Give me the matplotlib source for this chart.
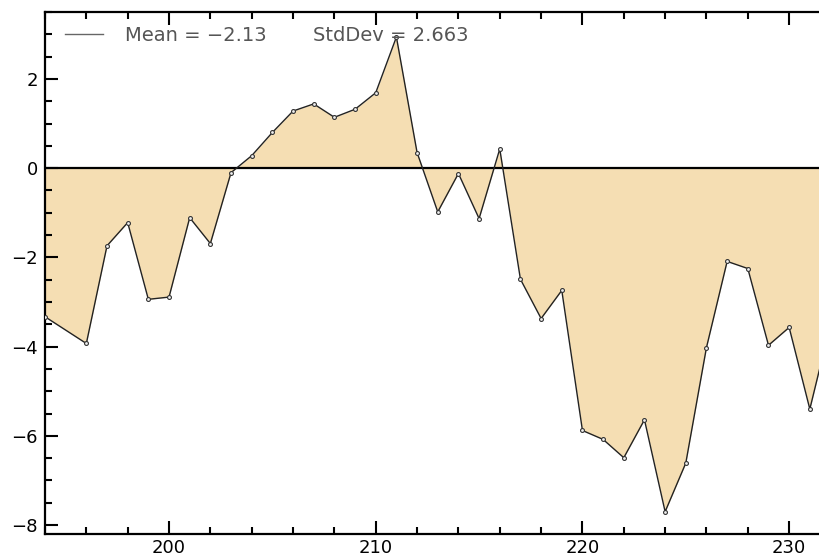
import matplotlib.pyplot as plt
import numpy as np

# residuals per index (no sample at 195)
index = [194, 196, 197, 198, 199, 200, 201, 202, 203, 204, 205, 206, 207,
         208, 209, 210, 211, 212, 213, 214, 215, 216, 217, 218, 219, 220,
         221, 222, 223, 224, 225, 226, 227, 228, 229, 230, 231, 232]
resid = [-3.33, -3.93, -1.74, -1.22, -2.94, -2.89, -1.11, -1.69, -0.10, 0.28,
         0.80, 1.28, 1.44, 1.14, 1.32, 1.69, 2.94, 0.35, -0.98, -0.12, -1.13,
         0.43, -2.49, -3.37, -2.74, -5.88, -6.08, -6.49, -5.64, -7.70, -6.61,
         -4.02, -2.09, -2.25, -3.97, -3.57, -5.40, -3.50]
mean_text = "Mean = \u22122.13"
std_text = "StdDev = 2.663"

plt.rcParams['font.family'] = ['DejaVu Sans']

fig = plt.figure(figsize=(8.2, 5.6), dpi=100)
ax = fig.add_axes([45 / 820, 26 / 560, 785.5 / 820, 522 / 560])

x = np.array(index)
y = np.array(resid)
ax.fill_between(x, y, 0, color='#f5deb3', lw=0, zorder=1)
ax.axhline(0, color='black', lw=1.6, zorder=2)
ax.plot(x, y, color='#222222', lw=1.0, marker='o', ms=2.8, mfc='#eeeeee',
        mec='#333333', mew=0.8, zorder=3)

ax.set_xlim(194, 232)
ax.set_ylim(-8.2, 3.5)
ax.set_xticks([200, 210, 220, 230])
ax.set_xticks(np.arange(194, 233, 2), minor=True)
ax.set_yticks([-8, -6, -4, -2, 0, 2])
ax.set_yticks(np.arange(-8, 3.6, 0.5), minor=True)

for s in ax.spines.values():
    s.set_linewidth(1.6)
ax.spines['right'].set_visible(False)
ax.tick_params(which='both', direction='in', top=True, right=False,
               width=1.5, labelsize=13)
ax.tick_params(which='major', length=9.5)
ax.tick_params(which='minor', length=5)
ax.tick_params(axis='x', pad=3.5)
ax.tick_params(axis='y', pad=5)

# statistics key in the upper left corner
ax.plot([0.0255, 0.0738], [0.958, 0.958], color='#666666', lw=1.0,
        transform=ax.transAxes, clip_on=False)
ax.text(0.1015, 0.955, mean_text, transform=ax.transAxes, fontsize=14,
        color='#555555', va='center', ha='left')
ax.text(0.3416, 0.955, std_text, transform=ax.transAxes, fontsize=14,
        color='#555555', va='center', ha='left')

fig.savefig('out.png', dpi=100)
